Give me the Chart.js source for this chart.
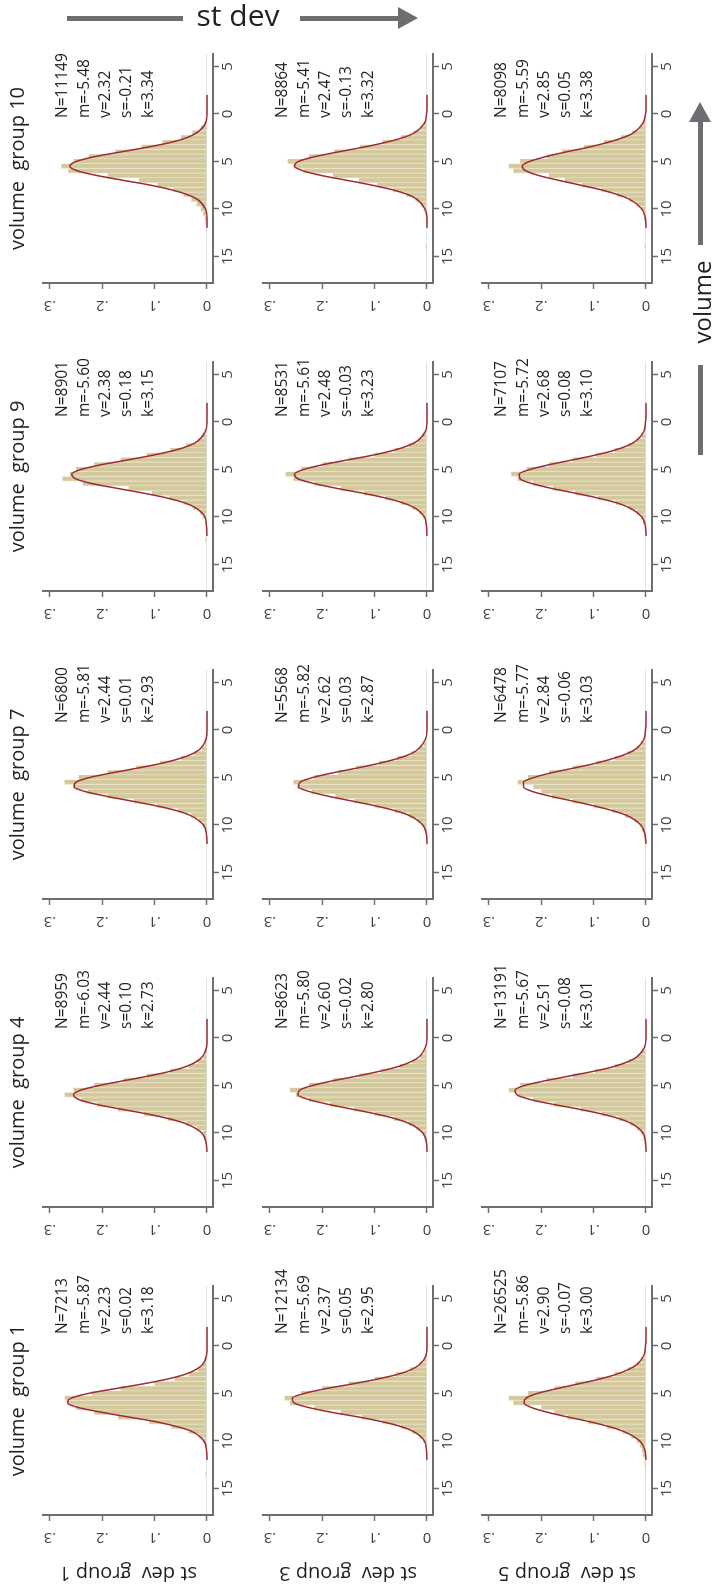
<!DOCTYPE html>
<html>
<head>
<meta charset="utf-8">
<title>st dev group by volume group</title>
<script src="https://cdn.jsdelivr.net/npm/chart.js@4.4.1/dist/chart.umd.min.js"></script>
<style>
	html, body { margin: 0; padding: 0; background: #fff; width: 713px; height: 1587px; overflow: hidden; }
	/* the figure is laid out landscape and turned a quarter turn */
	#page { position: absolute; left: 0; top: 0; width: 1587px; height: 713px; transform-origin: 0 0; transform: translateY(1587px) rotate(-90deg); }
	#page canvas { position: absolute; }
	.rule { position: absolute; background: #6d6e71; }
	.lbl { position: absolute; font-family: "Open Sans", sans-serif; color: #231f20; white-space: nowrap; line-height: 1; }
</style>
</head>
<body>
<div id="page"></div>

<div class="rule" style="left:67px;top:16px;width:116px;height:5px;"></div>
<div class="lbl" style="left:238px;top:0px;font-size:30px;transform:translateX(-50%);">st dev</div>
<div class="rule" style="left:300px;top:16px;width:100px;height:5px;"></div>
<div style="position:absolute;left:398px;top:7px;width:0;height:0;border-left:20px solid #6d6e71;border-top:11px solid transparent;border-bottom:11px solid transparent;"></div>

<div style="position:absolute;left:689px;top:102px;width:0;height:0;border-bottom:20px solid #6d6e71;border-left:11px solid transparent;border-right:11px solid transparent;"></div>
<div class="rule" style="left:698px;top:120px;width:5px;height:125px;"></div>
<div class="lbl" style="left:702px;top:302px;font-size:24px;transform:translate(-50%,-50%) rotate(-90deg);">volume</div>
<div class="rule" style="left:698px;top:365px;width:5px;height:90px;"></div>

<script>
// Shared value grid (bin mid points) and fitted-curve sample points
const binMid = [-17, -16.5, -16, -15.5, -15, -14.5, -14, -13.5, -13, -12.5, -12, -11.5, -11, -10.5, -10, -9.5, -9, -8.5, -8, -7.5, -7, -6.5, -6, -5.5, -5, -4.5, -4, -3.5, -3, -2.5, -2, -1.5, -1, -0.5, 0, 0.5];
const curveX = [-12, -11, -10, -9, -8.5, -8, -7.5, -7, -6.5, -6, -5.5, -5, -4.5, -4, -3.5, -3, -2.5, -2, -1, 0, 1, 2];
const xTicks = [-15, -10, -5, 0, 5];
const xTickLabels = ['15', '10', '5', '0', '5'];
const yTicks = [0, 0.1, 0.2, 0.3];
const yTickLabels = ['0', '.1', '.2', '.3'];
const volumeGroups = ['1', '4', '7', '9', '10'];
const stdevGroups = ['1', '3', '5'];

// Histogram densities, st dev group 1
const histS1V1 = [0,0,0,0,0,0,0,.003,0,0,.001,.001,.002,.004,.008,.015,.035,.068,.11,.17,.215,.25,.265,.272,.22,.165,.10,.062,.035,.018,.009,.004,.002,.001,0,0];
const histS1V4 = [0,0,0,0,0,0,0,0,0,0,0,.001,.002,.004,.008,.02,.04,.075,.12,.17,.21,.24,.272,.255,.215,.16,.115,.07,.035,.018,.007,.003,.001,0,0,0];
const histS1V7 = [0,0,0,0,0,0,0,0,0,0,.001,.001,.002,.004,.007,.015,.03,.055,.095,.14,.19,.228,.255,.272,.245,.19,.135,.09,.05,.025,.01,.004,.001,0,0,0];
const histS1V9 = [0,0,0,0,0,0,0,0,0,.003,0,0,.001,.003,.007,.014,.027,.045,.072,.105,.15,.237,.276,.262,.25,.215,.165,.115,.07,.04,.018,.008,.003,.001,0,0];
const histS1V10 = [0,0,0,0,0,0,0,0,0,.002,.002,.003,.004,.007,.012,.02,.03,.045,.065,.095,.13,.19,.265,.278,.255,.225,.175,.125,.085,.05,.028,.012,.005,.002,0,0];
// st dev group 3
const histS3V1 = [0,0,0,0,0,0,0,.002,0,0,0,0,.001,.003,.007,.015,.028,.05,.085,.125,.165,.215,.262,.272,.24,.2,.15,.1,.06,.032,.015,.006,.002,0,0,0];
const histS3V4 = [0,0,0,0,0,0,0,.002,0,0,0,.001,.002,.004,.009,.02,.035,.063,.1,.14,.185,.225,.25,.262,.225,.18,.13,.088,.052,.028,.013,.005,.002,0,0,0];
const histS3V7 = [0,0,0,0,0,0,0,0,0,0,0,0,.002,.004,.009,.018,.035,.062,.1,.14,.175,.22,.248,.255,.215,.17,.135,.092,.057,.03,.015,.006,.002,0,0,0];
const histS3V9 = [0,0,0,0,0,0,0,0,.002,0,0,.001,.002,.004,.008,.015,.028,.05,.08,.12,.165,.215,.255,.27,.24,.2,.15,.1,.062,.035,.017,.007,.003,.001,0,0];
const histS3V10 = [0,0,0,0,0,0,.003,0,0,0,0,.001,.002,.003,.006,.012,.022,.04,.065,.095,.13,.18,.235,.255,.266,.225,.178,.128,.085,.05,.026,.012,.005,.002,0,0];
// st dev group 5
const histS5V1 = [0,0,.001,.001,0,0,.001,.002,.002,.003,.003,.006,.008,.012,.018,.028,.045,.075,.11,.15,.175,.2,.253,.262,.225,.175,.135,.095,.06,.035,.018,.008,.003,.001,0,0];
const histS5V4 = [0,0,0,0,0,0,.002,0,0,0,.001,.002,.003,.005,.009,.017,.03,.052,.085,.125,.175,.215,.245,.262,.24,.19,.14,.098,.06,.033,.017,.007,.003,.001,0,0];
const histS5V7 = [0,0,0,.002,.001,0,0,0,0,.002,.002,.003,.004,.007,.012,.022,.04,.065,.1,.14,.18,.2,.215,.245,.225,.185,.14,.095,.06,.035,.018,.008,.003,.001,0,0];
const histS5V9 = [0,0,0,0,0,0,0,0,.001,0,.001,.002,.003,.006,.01,.018,.034,.058,.092,.135,.178,.215,.245,.257,.228,.185,.14,.096,.06,.034,.018,.008,.003,.001,0,0];
const histS5V10 = [0,0,0,0,0,0,.003,0,0,0,.002,.002,.004,.006,.01,.018,.032,.056,.085,.122,.155,.185,.253,.262,.24,.19,.16,.118,.08,.048,.026,.012,.005,.002,.001,0];

// Fitted normal curves, read at curveX
const fitS1V1 = [0,.001,.006,.029,.057,.096,.148,.200,.245,.266,.259,.226,.175,.122,.076,.042,.021,.009,.001,0,0,0];
const fitS1V4 = [0,.002,.010,.042,.073,.115,.164,.211,.244,.255,.241,.205,.158,.110,.069,.039,.020,.009,.001,0,0,0];
const fitS1V7 = [0,.001,.007,.032,.058,.096,.143,.191,.232,.254,.250,.223,.179,.130,.085,.051,.027,.013,.002,0,0,0];
const fitS1V9 = [0,.001,.004,.023,.044,.077,.121,.171,.219,.250,.258,.240,.201,.151,.103,.062,.034,.017,.003,0,0,0];
const fitS1V10 = [0,0,.003,.018,.037,.067,.108,.159,.209,.247,.262,.249,.214,.164,.113,.069,.038,.020,.003,0,0,0];
const fitS3V1 = [0,.001,.005,.026,.049,.084,.129,.181,.225,.254,.257,.234,.193,.142,.095,.056,.030,.015,.002,0,0,0];
const fitS3V4 = [0,.001,.008,.034,.061,.098,.143,.188,.225,.246,.243,.218,.178,.132,.089,.054,.030,.015,.003,0,0,0];
const fitS3V7 = [0,.001,.008,.034,.061,.098,.142,.187,.224,.245,.242,.217,.178,.132,.090,.055,.030,.016,.003,0,0,0];
const fitS3V9 = [0,.001,.005,.025,.047,.080,.123,.172,.215,.246,.253,.235,.198,.151,.103,.064,.036,.018,.003,0,0,0];
const fitS3V10 = [0,0,.004,.019,.036,.065,.105,.152,.200,.236,.253,.245,.214,.169,.121,.079,.046,.024,.005,.001,0,0];
const fitS5V1 = [0,.002,.012,.043,.070,.106,.148,.187,.218,.233,.229,.207,.170,.129,.089,.057,.034,.018,.004,.001,0,0];
const fitS5V4 = [0,.001,.006,.028,.051,.085,.128,.177,.220,.246,.250,.231,.191,.145,.098,.060,.034,.017,.003,0,0,0];
const fitS5V7 = [0,.002,.010,.037,.064,.099,.139,.181,.216,.234,.234,.213,.179,.136,.095,.062,.036,.019,.004,.001,0,0];
const fitS5V9 = [0,.001,.008,.033,.057,.093,.135,.180,.217,.240,.242,.221,.184,.140,.097,.061,.035,.019,.004,.001,0,0];
const fitS5V10 = [0,.001,.008,.031,.054,.085,.125,.166,.204,.229,.236,.222,.191,.152,.109,.073,.044,.024,.006,.001,0,0];

// Summary statistics printed in each panel (rows: st dev group, cols: volume group)
const statN = [['7213', '8959', '6800', '8901', '11149'], ['12134', '8623', '5568', '8531', '8864'], ['26525', '13191', '6478', '7107', '8098']];
const statM = [['-5.87', '-6.03', '-5.81', '-5.60', '-5.48'], ['-5.69', '-5.80', '-5.82', '-5.61', '-5.41'], ['-5.86', '-5.67', '-5.77', '-5.72', '-5.59']];
const statV = [['2.23', '2.44', '2.44', '2.38', '2.32'], ['2.37', '2.60', '2.62', '2.48', '2.47'], ['2.90', '2.51', '2.84', '2.68', '2.85']];
const statS = [['0.02', '0.10', '0.01', '0.18', '-0.21'], ['0.05', '-0.02', '0.03', '-0.03', '-0.13'], ['-0.07', '-0.08', '-0.06', '0.08', '0.05']];
const statK = [['3.18', '2.73', '2.93', '3.15', '3.34'], ['2.95', '2.80', '2.87', '3.23', '3.32'], ['3.00', '3.01', '3.03', '3.10', '3.38']];

const hists = [[histS1V1, histS1V4, histS1V7, histS1V9, histS1V10], [histS3V1, histS3V4, histS3V7, histS3V9, histS3V10], [histS5V1, histS5V4, histS5V7, histS5V9, histS5V10]];
const fits = [[fitS1V1, fitS1V4, fitS1V7, fitS1V9, fitS1V10], [fitS3V1, fitS3V4, fitS3V7, fitS3V9, fitS3V10], [fitS5V1, fitS5V4, fitS5V7, fitS5V9, fitS5V10]];

// Layout of the landscape figure (before the quarter turn)
const plotW = 229, plotH = 170;
const padL = 70, padT = 43, padR = 24, padB = 40;
const colLeft = [72, 380, 688, 996, 1304];
const rowTop = [43, 263, 482];
const statsLeft = [181, 178, 176, 174, 165];
const axisColor = '#6d6e71';
const textColor = '#231f20';
const family = '"Open Sans", "DejaVu Sans", sans-serif';

Chart.defaults.font.family = family;

// Draws the N/m/v/s/k block inside the plot
const statsText = {
	id: 'stats',
	afterDatasetsDraw(chart, args, opts) {
		const ctx = chart.ctx, area = chart.chartArea;
		ctx.save();
		ctx.font = '15.5px ' + family;
		ctx.fillStyle = textColor;
		ctx.textAlign = 'left';
		ctx.textBaseline = 'middle';
		opts.lines.forEach((t, k) => {
			ctx.fillText(t, area.left + opts.left, area.top + 20 + k * 21.3);
		});
		ctx.restore();
	}
};

const page = document.getElementById('page');

stdevGroups.forEach((sd, i) => {
	volumeGroups.forEach((vol, j) => {
		let canvas = document.createElement('canvas');
		canvas.width = padL + plotW + padR;
		canvas.height = padT + plotH + padB;
		canvas.style.left = (colLeft[j] - padL) + 'px';
		canvas.style.top = (rowTop[i] - padT) + 'px';
		page.appendChild(canvas);

		let hist = hists[i][j], fit = fits[i][j];
		new Chart(canvas.getContext('2d'), {
			type: 'bar',
			data: {
				datasets: [
					{
						type: 'line',
						data: curveX.map((x, k) => ({ x: x, y: fit[k] })),
						borderColor: '#9c2b33',
						borderWidth: 1.5,
						pointRadius: 0,
						fill: false,
						cubicInterpolationMode: 'monotone',
						order: 0
					},
					{
						type: 'bar',
						data: binMid.map((x, k) => ({ x: x, y: hist[k] })),
						backgroundColor: '#d4c99c',
						borderColor: '#e7e0c6',
						borderWidth: { left: 1, right: 0, top: 0, bottom: 0 },
						borderSkipped: false,
						barPercentage: 1,
						categoryPercentage: 1,
						order: 1
					}
				]
			},
			options: {
				responsive: false,
				animation: false,
				devicePixelRatio: 1,
				events: [],
				layout: { padding: { left: 0, right: padR, top: i === 0 ? 0 : padT, bottom: 0 } },
				plugins: {
					legend: { display: false },
					tooltip: { enabled: false },
					title: {
						display: i === 0,
						text: 'volume  group ' + vol,
						fullSize: false,
						color: textColor,
						font: { size: 20, weight: 'normal', family: family },
						padding: { top: 6, bottom: 13 }
					},
					stats: {
						left: statsLeft[j],
						lines: ['N=' + statN[i][j], 'm=' + statM[i][j], 'v=' + statV[i][j], 's=' + statS[i][j], 'k=' + statK[i][j]]
					}
				},
				scales: {
					x: {
						type: 'linear',
						min: -17.8,
						max: 6.3,
						offset: false,
						afterBuildTicks: s => { s.ticks = xTicks.map(v => ({ value: v })); },
						afterFit: s => { s.height = padB; },
						ticks: {
							callback: (v, k) => xTickLabels[k],
							autoSkip: false,
							minRotation: 0,
							maxRotation: 0,
							padding: 0,
							color: '#414042',
							font: { size: 15 }
						},
						grid: { drawOnChartArea: false, offset: false, tickLength: 6, tickColor: axisColor, tickWidth: 1.5 },
						border: { display: true, color: axisColor, width: 2 }
					},
					y: {
						type: 'linear',
						min: -0.0115,
						max: 0.313,
						afterBuildTicks: s => { s.ticks = yTicks.map(v => ({ value: v })); },
						afterFit: s => { s.width = padL; },
						ticks: {
							callback: (v, k) => yTickLabels[k],
							autoSkip: false,
							minRotation: 90,
							maxRotation: 90,
							crossAlign: 'center',
							padding: 10,
							color: '#414042',
							font: { size: 15 }
						},
						grid: {
							color: c => (c.tick && c.tick.value === 0) ? '#dce5e9' : 'rgba(0,0,0,0)',
							lineWidth: 1,
							tickLength: 6,
							tickColor: axisColor,
							tickWidth: 1.5
						},
						border: { display: true, color: axisColor, width: 2 },
						title: {
							display: j === 0,
							text: 'st dev  group ' + sd,
							color: textColor,
							font: { size: 20, weight: 'normal', family: family },
							padding: { top: 0, bottom: 0 }
						}
					}
				}
			},
			plugins: [statsText]
		});
	});
});
</script>
</body>
</html>
